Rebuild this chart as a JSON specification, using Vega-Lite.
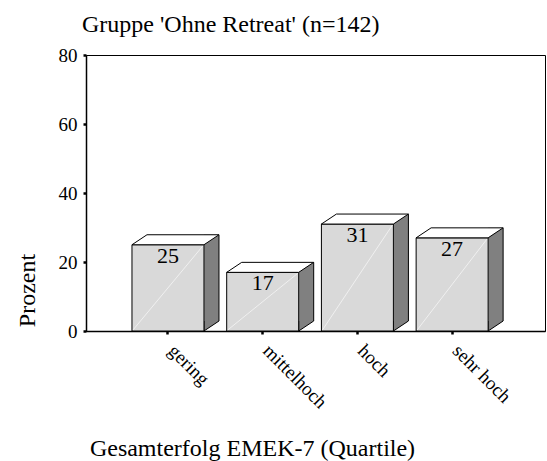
{
  "$schema": "https://vega.github.io/schema/vega-lite/v6.json",
  "autosize": {"type": "none"},
  "padding": {"left": 86, "top": 55, "right": 2, "bottom": 130},
  "width": 459,
  "height": 276,
  "background": "white",
  "view": {"stroke": "black", "strokeWidth": 1},
  "config": {
    "font": "Liberation Serif",
    "axis": {"grid": false, "domainColor": "black", "domainWidth": 1.5, "tickColor": "black", "tickSize": 3, "tickWidth": 2.5, "labelColor": "black", "titleColor": "black", "titleFontWeight": "normal", "labelFont": "Liberation Serif", "titleFont": "Liberation Serif", "zindex": 1}
  },
  "title": {"text": "Gruppe 'Ohne Retreat' (n=142)", "anchor": "start", "frame": "group", "fontSize": 24, "font": "Liberation Serif", "fontWeight": "normal", "color": "black", "baseline": "alphabetic", "offset": 23, "dx": -4, "dy": 33},
  "data": {"values": [
    {"cat": "gering", "v": 25},
    {"cat": "mittelhoch", "v": 17},
    {"cat": "hoch", "v": 31},
    {"cat": "sehr hoch", "v": 27}
  ]},
  "encoding": {
    "x": {"field": "cat", "type": "nominal", "sort": null,
      "scale": {"paddingInner": 0.24, "paddingOuter": 0.543, "align": 0.447},
      "axis": {"title": "Gesamterfolg EMEK-7 (Quartile)", "titleFontSize": 24, "titleX": 166, "titleY": 124, "titleAlign": "center", "titleBaseline": "alphabetic",
        "labelAngle": 45, "labelAlign": "left", "labelBaseline": "top", "labelFontSize": 19, "labelPadding": 7, "labelOffset": 10}}
  },
  "layer": [
    {
      "mark": {"type": "bar", "width": 15, "xOffset": 43.5, "yOffset": -10, "y2Offset": -10, "color": "#808080"},
      "encoding": {
        "y": {"field": "v", "type": "quantitative", "scale": {"domain": [0, 80], "nice": false},
          "axis": {"values": [0, 20, 40, 60, 80], "title": "Prozent", "titleFontSize": 24, "titleAngle": 270, "titleX": -52, "titleY": 235, "titleAlign": "center", "titleBaseline": "alphabetic", "labelFontSize": 19, "labelPadding": 6}},
        "y2": {"datum": 0}
      }
    },
    {
      "mark": {"type": "point", "shape": "M36,-10 L36,0 L51,-10", "size": 4, "filled": true, "fill": "#808080", "stroke": "black", "strokeWidth": 1, "opacity": 1},
      "encoding": {"y": {"datum": 0, "type": "quantitative"}}
    },
    {
      "mark": {"type": "rule", "xOffset": 51, "yOffset": -10, "y2Offset": -10, "color": "black", "strokeWidth": 1},
      "encoding": {"y": {"field": "v", "type": "quantitative"}, "y2": {"datum": 0}}
    },
    {
      "mark": {"type": "rule", "xOffset": 85, "x2Offset": 74, "yOffset": -7, "y2Offset": -4, "color": "white", "strokeWidth": 1, "opacity": 0.6, "strokeDash": [4, 3]},
      "encoding": {"x": {"field": "cat", "type": "nominal", "sort": null}, "x2": {"field": "cat"}, "y": {"field": "v", "type": "quantitative"}, "y2": {"datum": 0}}
    },
    {
      "mark": {"type": "bar", "color": "#d9d9d9", "stroke": "black", "strokeWidth": 1},
      "encoding": {"y": {"field": "v", "type": "quantitative"}}
    },
    {
      "mark": {"type": "rule", "xOffset": 35, "x2Offset": -35, "yOffset": 1, "y2Offset": -1, "color": "white", "strokeWidth": 1, "opacity": 0.6},
      "encoding": {"x": {"field": "cat", "type": "nominal", "sort": null}, "x2": {"field": "cat"}, "y": {"field": "v", "type": "quantitative"}, "y2": {"datum": 0}}
    },
    {
      "mark": {"type": "point", "shape": "M-36,0 L36,0 L51,-10 L-21,-10 Z", "size": 4, "filled": true, "fill": "white", "stroke": "black", "strokeWidth": 1, "opacity": 1},
      "encoding": {"y": {"field": "v", "type": "quantitative"}}
    },
    {
      "mark": {"type": "text", "baseline": "alphabetic", "dy": 18, "fontSize": 22, "font": "Liberation Serif", "color": "black"},
      "encoding": {"y": {"field": "v", "type": "quantitative"}, "text": {"field": "v", "type": "quantitative"}}
    }
  ]
}
